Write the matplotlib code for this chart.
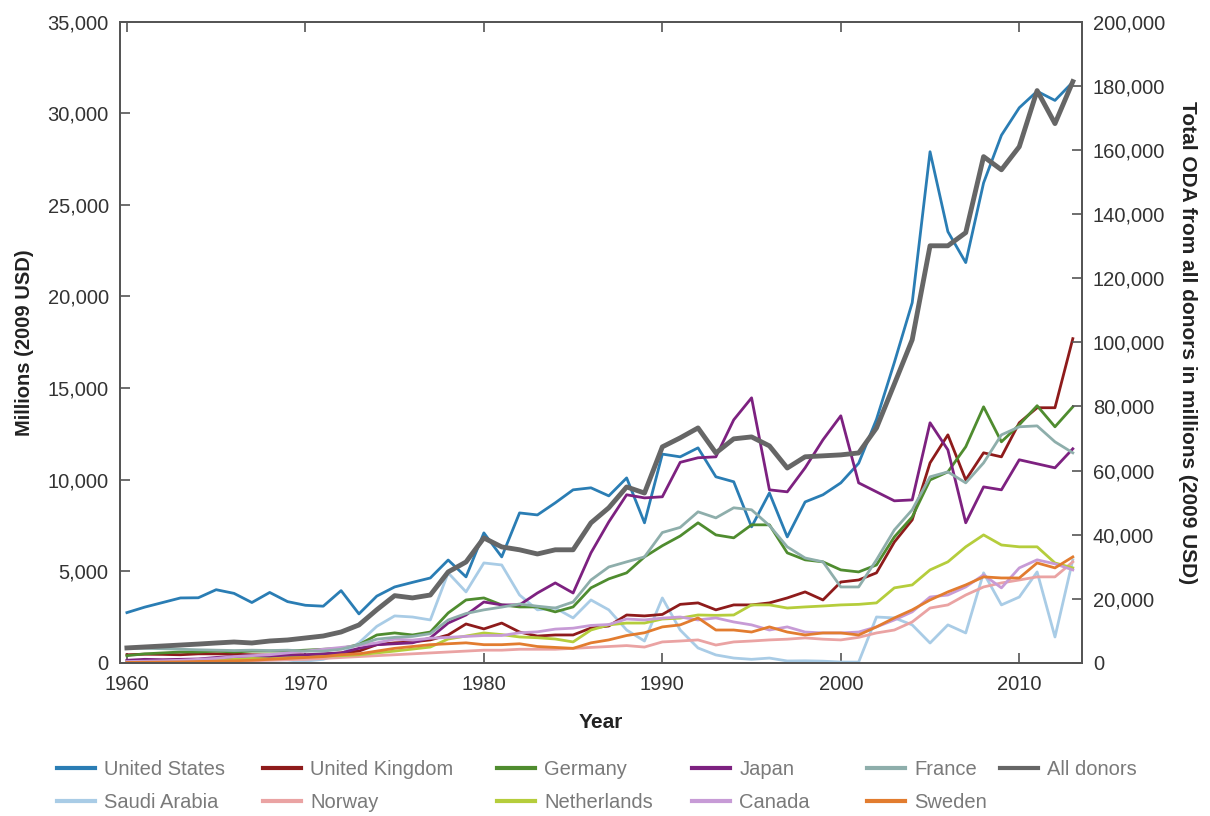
import matplotlib
matplotlib.use("Agg")
import matplotlib.pyplot as plt
import numpy as np

plt.rcParams['font.family'] = ['Liberation Sans', 'DejaVu Sans']

years = np.arange(1960, 2014)

# millions, 2009 USD (left axis)
united_states = [2750, 3050, 3300, 3550, 3560, 4000, 3800, 3300, 3850, 3350,
                 3150, 3100, 3950, 2680, 3650, 4150, 4400, 4640, 5620, 4700,
                 7100, 5790, 8190, 8080, 8740, 9450, 9560, 9120, 10100, 7650,
                 11400, 11250, 11740, 10160, 9890, 7430, 9280, 6880, 8790, 9180,
                 9830, 10900, 13300, 16400, 19660, 27900, 23540, 21850, 26200, 28800,
                 30300, 31200, 30700, 31700]
united_kingdom = [450, 480, 470, 450, 500, 500, 480, 450, 430, 450,
                  430, 480, 550, 650, 1000, 1100, 1150, 1260, 1530, 2130,
                  1860, 2180, 1690, 1470, 1530, 1530, 1910, 2020, 2620, 2570,
                  2650, 3200, 3280, 2900, 3170, 3170, 3280, 3550, 3880, 3440,
                  4420, 4530, 4920, 6600, 7810, 10920, 12450, 9990, 11470, 11250,
                  13110, 13930, 13930, 17700]
germany = [400, 500, 550, 600, 600, 650, 600, 650, 650, 650,
           700, 750, 800, 1000, 1530, 1640, 1530, 1690, 2730, 3440,
           3550, 3170, 3060, 3060, 2790, 3060, 4100, 4590, 4920, 5790,
           6400, 6930, 7650, 6990, 6830, 7540, 7540, 6010, 5630, 5520,
           5080, 4970, 5350, 6880, 7970, 9990, 10430, 11800, 13980, 12070,
           13000, 14040, 12890, 13980]
japan = [150, 200, 180, 200, 220, 300, 350, 400, 380, 430,
         450, 500, 550, 800, 1000, 1050, 1100, 1370, 2180, 2620,
         3330, 3170, 3170, 3820, 4370, 3820, 6010, 7700, 9180, 9010,
         9070, 10950, 11200, 11250, 13270, 14470, 9450, 9340, 10650, 12180,
         13490, 9830, 9340, 8850, 8900, 13110, 11630, 7650, 9610, 9450,
         11090, 10870, 10650, 11690]
france = [800, 800, 780, 750, 720, 700, 680, 700, 680, 700,
          650, 650, 750, 1000, 1300, 1400, 1450, 1600, 2350, 2700,
          2900, 3050, 3220, 3100, 3000, 3330, 4530, 5240, 5520, 5790,
          7120, 7400, 8250, 7920, 8470, 8360, 7500, 6340, 5730, 5520,
          4150, 4150, 5630, 7260, 8360, 10160, 10430, 9830, 10920, 12450,
          12890, 12940, 12070, 11470]
saudi_arabia = [0, 0, 0, 0, 0, 0, 0, 0, 0, 0,
                100, 200, 500, 1100, 2000, 2570, 2510, 2350, 4920, 3880,
                5460, 5350, 3710, 2900, 3000, 2460, 3440, 2900, 1800, 1200,
                3550, 1800, 820, 440, 270, 200, 270, 110, 120, 100,
                50, 50, 2510, 2460, 2080, 1090, 2080, 1640, 4920, 3170,
                3600, 4970, 1420, 5630]
norway = [20, 30, 40, 50, 60, 80, 100, 120, 150, 180,
          200, 250, 300, 350, 400, 450, 500, 550, 600, 650,
          700, 700, 750, 750, 750, 800, 850, 900, 950, 870,
          1150, 1200, 1260, 980, 1150, 1200, 1260, 1300, 1370, 1300,
          1260, 1400, 1640, 1800, 2240, 3000, 3170, 3710, 4150, 4370,
          4530, 4700, 4700, 5520]
netherlands = [100, 120, 130, 120, 150, 200, 200, 250, 250, 300,
               350, 380, 400, 450, 550, 650, 760, 870, 1310, 1470,
               1640, 1550, 1420, 1380, 1310, 1150, 1800, 2080, 2180, 2180,
               2400, 2450, 2620, 2600, 2620, 3170, 3170, 3000, 3060, 3110,
               3170, 3200, 3280, 4100, 4260, 5080, 5520, 6340, 6990, 6440,
               6340, 6340, 5460, 5190]
canada = [80, 100, 120, 150, 200, 250, 350, 400, 450, 550,
          650, 750, 850, 950, 1100, 1300, 1250, 1350, 1400, 1450,
          1500, 1500, 1650, 1700, 1850, 1900, 2050, 2100, 2400, 2350,
          2450, 2510, 2350, 2460, 2240, 2080, 1800, 1970, 1690, 1640,
          1640, 1690, 1970, 2350, 2790, 3600, 3710, 4150, 4810, 4100,
          5190, 5630, 5410, 5080]
sweden = [30, 40, 50, 60, 80, 100, 120, 150, 200, 250,
          300, 350, 450, 500, 650, 800, 900, 1000, 1050, 1100,
          1000, 1000, 1050, 900, 850, 800, 1100, 1260, 1500, 1650,
          1970, 2080, 2460, 1800, 1800, 1690, 1970, 1690, 1530, 1640,
          1640, 1530, 1970, 2460, 2900, 3440, 3880, 4260, 4700, 4640,
          4640, 5460, 5190, 5790]

# total ODA, millions 2009 USD (right axis)
all_donors = [4700, 5000, 5300, 5600, 5900, 6240, 6550, 6240, 6860, 7180,
              7800, 8420, 9670, 11860, 16600, 21000, 20300, 21200, 28400, 31500,
              39000, 36200, 35300, 34000, 35300, 35300, 43700, 48400, 54900, 53000,
              67400, 70200, 73300, 65500, 69900, 70500, 67700, 60800, 64300, 64600,
              64900, 65500, 73300, 87000, 100800, 130100, 130100, 134200, 157900, 153800,
              161000, 178500, 168200, 181300]

series = [
    ("United States", united_states, "#2a7db4"),
    ("Saudi Arabia", saudi_arabia, "#a9cce6"),
    ("United Kingdom", united_kingdom, "#8e1b1b"),
    ("Norway", norway, "#eaa3a3"),
    ("Germany", germany, "#4f8c2f"),
    ("Netherlands", netherlands, "#b5cd3c"),
    ("Japan", japan, "#7d2180"),
    ("Canada", canada, "#c79bd6"),
    ("France", france, "#8eaeab"),
    ("Sweden", sweden, "#e27c2f"),
]

fig = plt.figure(figsize=(12.1, 8.16), dpi=100)
ax = fig.add_axes([0.099, 0.1875, 0.795, 0.786])
ax2 = ax.twinx()

handles = []
for name, vals, col in series:
    h, = ax.plot(years, vals, color=col, lw=2.0, label=name)
    handles.append(h)
hall, = ax2.plot(years, all_donors, color="#666666", lw=3.5, label="All donors")
handles.append(hall)

ax.set_xlim(1959.6, 2013.5)
ax.set_ylim(0, 35000)
ax2.set_ylim(0, 200000)
ax.set_xticks([1960, 1970, 1980, 1990, 2000, 2010])
ax.set_yticks(np.arange(0, 35001, 5000))
ax2.set_yticks(np.arange(0, 200001, 20000))
ax.yaxis.set_major_formatter(matplotlib.ticker.StrMethodFormatter("{x:,.0f}"))
ax2.yaxis.set_major_formatter(matplotlib.ticker.StrMethodFormatter("{x:,.0f}"))

for a in (ax, ax2):
    for s in a.spines.values():
        s.set_color("#555555")
        s.set_linewidth(1.3)
ax.tick_params(axis="both", direction="in", length=7, width=1.2, color="#555555",
               labelsize=14.5, labelcolor="#333333", top=True)
ax.tick_params(axis="x", pad=9)
ax.tick_params(axis="y", pad=8)
ax2.tick_params(axis="y", direction="in", length=7, width=1.2, color="#555555",
                labelsize=14.5, labelcolor="#333333", pad=8)

ax.set_xlabel("Year", fontsize=15, fontweight="bold", color="#222222", labelpad=13)
ax.set_ylabel("Millions (2009 USD)", fontsize=14.5, fontweight="bold", color="#222222", labelpad=10)
ax2.set_ylabel("Total ODA from all donors in millions (2009 USD)", fontsize=15,
               fontweight="bold", color="#222222", rotation=-90, labelpad=23)

# legend: one small legend per column, placed like the reference
col_x = [57, 263, 497, 692, 867, 1000]
for i, x in enumerate(col_x):
    hs = handles[2 * i:2 * i + 2]
    leg = fig.legend(handles=hs, loc="upper left", bbox_to_anchor=(x / 1210, 1 - 760 / 816),
                     frameon=False, fontsize=14.5, handlelength=1.9, handletextpad=0.45,
                     labelspacing=0.68, borderpad=0, borderaxespad=0)
    for t in leg.get_texts():
        t.set_color("#7a7a7a")
    for l in leg.get_lines():
        l.set_linewidth(3)

fig.savefig("out.png", dpi=100)
